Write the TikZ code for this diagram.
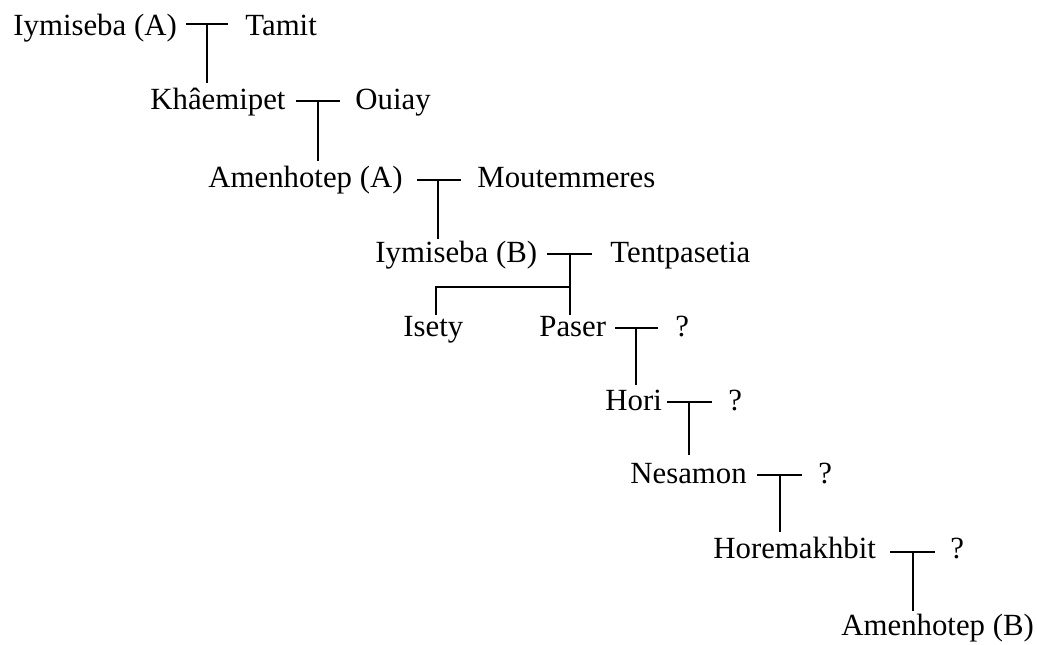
\documentclass[tikz,border=0pt]{standalone}
\usepackage{fontspec}
\setmainfont{Liberation Serif}
\begin{document}
\begin{tikzpicture}[x=0.5pt,y=-0.5pt,
  person/.style={anchor=base west,inner sep=0pt,font=\fontsize{15.4}{18}\selectfont},
  line/.style={line width=1pt,line cap=butt}]
\useasboundingbox (0,0) rectangle (1037,644);
% people
\node[person] (iyA) at (13,35) {Iymiseba (A)};
\node[person] (tam) at (245,35) {Tamit};
\node[person] (kha) at (150,109) {Khâemipet};
\node[person] (oui) at (355,109) {Ouiay};
\node[person] (amA) at (208,187) {Amenhotep (A)};
\node[person] (mou) at (477,187) {Moutemmeres};
\node[person] (iyB) at (375,262) {Iymiseba (B)};
\node[person] (ten) at (610,262) {Tentpasetia};
\node[person] (ise) at (403,336) {Isety};
\node[person] (pas) at (539,336) {Paser};
\node[person] (q1) at (675,336) {?};
\node[person] (hor) at (605,410) {Hori};
\node[person] (q2) at (728,410) {?};
\node[person] (nes) at (630,483) {Nesamon};
\node[person] (q3) at (818,483) {?};
\node[person] (hmk) at (713,558) {Horemakhbit};
\node[person] (q4) at (950,558) {?};
\node[person] (amB) at (841,635) {Amenhotep (B)};
% junction coordinates
\coordinate (a1) at (186,24); \coordinate (b1) at (228,24); \coordinate (m1) at (207,24); \coordinate (c1) at (207,83);
\coordinate (a2) at (296,101); \coordinate (b2) at (340,101); \coordinate (m2) at (318,101); \coordinate (c2) at (318,161);
\coordinate (a3) at (417,180); \coordinate (b3) at (461,180); \coordinate (m3) at (438,180); \coordinate (c3) at (438,239);
\coordinate (a4) at (547,254); \coordinate (b4) at (592,254); \coordinate (m4) at (570,254); \coordinate (k4) at (570,287); \coordinate (c4) at (570,315);
\coordinate (k5) at (436,287); \coordinate (c5) at (436,315);
\coordinate (a6) at (615,328); \coordinate (b6) at (658,328); \coordinate (m6) at (636,328); \coordinate (c6) at (636,385);
\coordinate (a7) at (667,402); \coordinate (b7) at (712,402); \coordinate (m7) at (689,402); \coordinate (c7) at (689,455);
\coordinate (a8) at (757,475); \coordinate (b8) at (802,475); \coordinate (m8) at (780,475); \coordinate (c8) at (780,532);
\coordinate (a9) at (890,552); \coordinate (b9) at (935,552); \coordinate (m9) at (913,552); \coordinate (c9) at (913,611);
% connectors
\draw[line] (a1) -- (b1) (m1) -- (c1);
\draw[line] (a2) -- (b2) (m2) -- (c2);
\draw[line] (a3) -- (b3) (m3) -- (c3);
\draw[line] (a4) -- (b4) (m4) -- (c4);
\draw[line] (k4) -- (k5) -- (c5);
\draw[line] (a6) -- (b6) (m6) -- (c6);
\draw[line] (a7) -- (b7) (m7) -- (c7);
\draw[line] (a8) -- (b8) (m8) -- (c8);
\draw[line] (a9) -- (b9) (m9) -- (c9);
\end{tikzpicture}
\end{document}
